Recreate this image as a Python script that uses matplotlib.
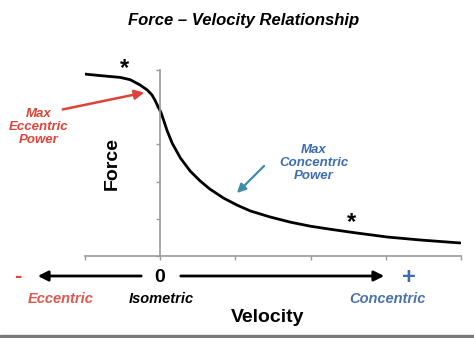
import matplotlib
matplotlib.use('Agg')
import matplotlib.pyplot as plt
from matplotlib.patches import Rectangle

plt.rcParams['font.family'] = ['Liberation Sans', 'DejaVu Sans']

# force-velocity curve
velocity = [-1.0, -0.8, -0.53, -0.4, -0.27, -0.17, -0.11, -0.07, -0.03, 0.01,
            0.044, 0.09, 0.16, 0.27, 0.40, 0.53, 0.66, 0.84, 1.02, 1.20,
            1.46, 1.73, 2.0, 2.26, 2.57, 3.02, 3.46, 3.99]
force = [4.89, 4.85, 4.80, 4.74, 4.60, 4.46, 4.33, 4.19, 4.02, 3.86,
         3.66, 3.38, 3.03, 2.63, 2.28, 2.02, 1.80, 1.56, 1.37, 1.21,
         1.05, 0.91, 0.80, 0.72, 0.63, 0.51, 0.43, 0.35]
star_velocity = [-0.47, 2.55]
star_force = [5.05, 0.9]

title = 'Force \u2013 Velocity Relationship'
ecc_note = 'Max\nEccentric\nPower'
con_note = 'Max\nConcentric\nPower'

W, H = 474, 338
RED = '#de4339'
BLUE = '#3c6db3'
TEAL = '#3d8cab'

fig = plt.figure(figsize=(W / 100, H / 100), dpi=100)


def px(x, y):
    return (x / W, 1 - y / H)


ax = fig.add_axes([85 / W, 82 / H, 376 / W, 186 / H])
ax.plot(velocity, force, color='black', lw=2.0, solid_capstyle='round',
        solid_joinstyle='round')
for sx, sy in zip(star_velocity, star_force):
    ax.text(sx, sy, '*', ha='center', va='center', fontsize=17,
            fontweight='bold', clip_on=False)

ax.set_xlim(-1, 4)
ax.set_ylim(0, 5)
ax.set_xticks([-1, 0, 1, 2, 3, 4])
ax.set_yticks([0, 1, 2, 3, 4, 5])
ax.set_xticklabels([])
ax.set_yticklabels([])
ax.spines['left'].set_position(('data', 0))
ax.spines['right'].set_visible(False)
ax.spines['top'].set_visible(False)
for s in ['left', 'bottom']:
    ax.spines[s].set_color('#9a9a9a')
    ax.spines[s].set_linewidth(1.2)
ax.tick_params(direction='out', length=3, color='#9a9a9a', width=1)
ax.patch.set_visible(False)

fig.text(*px(244, 20), title, ha='center', va='center', fontsize=12,
         fontweight='bold', fontstyle='italic')
fig.text(*px(112, 163), 'Force', ha='center', va='center', fontsize=14,
         fontweight='bold', rotation=90)

fig.text(*px(39, 127), ecc_note, ha='center', va='center', fontsize=9.5,
         fontweight='bold', fontstyle='italic', color=RED, linespacing=1.15)
fig.text(*px(314, 163), con_note, ha='center', va='center', fontsize=9.5,
         fontweight='bold', fontstyle='italic', color=BLUE, linespacing=1.15)

ax.annotate('', xy=px(147, 92), xycoords='figure fraction',
            xytext=px(60, 110), textcoords='figure fraction',
            arrowprops=dict(arrowstyle='-|>', color=RED, lw=1.8,
                            mutation_scale=14))
ax.annotate('', xy=px(235, 195), xycoords='figure fraction',
            xytext=px(266, 164), textcoords='figure fraction',
            arrowprops=dict(arrowstyle='-|>', color=TEAL, lw=1.6,
                            mutation_scale=13))

# velocity direction arrows
ax.annotate('', xy=px(35, 276), xycoords='figure fraction',
            xytext=px(144, 276), textcoords='figure fraction',
            arrowprops=dict(arrowstyle='-|>', color='black', lw=2,
                            mutation_scale=15))
ax.annotate('', xy=px(387, 276), xycoords='figure fraction',
            xytext=px(178, 276), textcoords='figure fraction',
            arrowprops=dict(arrowstyle='-|>', color='black', lw=2,
                            mutation_scale=15))
fig.text(*px(160, 278), '0', ha='center', va='center', fontsize=14,
         fontweight='bold')
fig.text(*px(18, 276), '-', ha='center', va='center', fontsize=16,
         fontweight='bold', color=RED)
fig.text(*px(409, 277), '+', ha='center', va='center', fontsize=17,
         fontweight='bold', color=BLUE)

fig.text(*px(61, 299), 'Eccentric', ha='center', va='center', fontsize=10.5,
         fontweight='bold', fontstyle='italic', color='#e0574d')
fig.text(*px(161, 299), 'Isometric', ha='center', va='center', fontsize=10.5,
         fontweight='bold', fontstyle='italic', color='black')
fig.text(*px(387, 299), 'Concentric', ha='center', va='center', fontsize=10.5,
         fontweight='bold', fontstyle='italic', color='#4a72ad')
fig.text(*px(268, 318), 'Velocity', ha='center', va='center', fontsize=14,
         fontweight='bold')

fig.patches.append(Rectangle((0, 0), 1, 3 / H, transform=fig.transFigure,
                             color='#7a7a7a', zorder=0))

fig.savefig('out.png', dpi=100)
